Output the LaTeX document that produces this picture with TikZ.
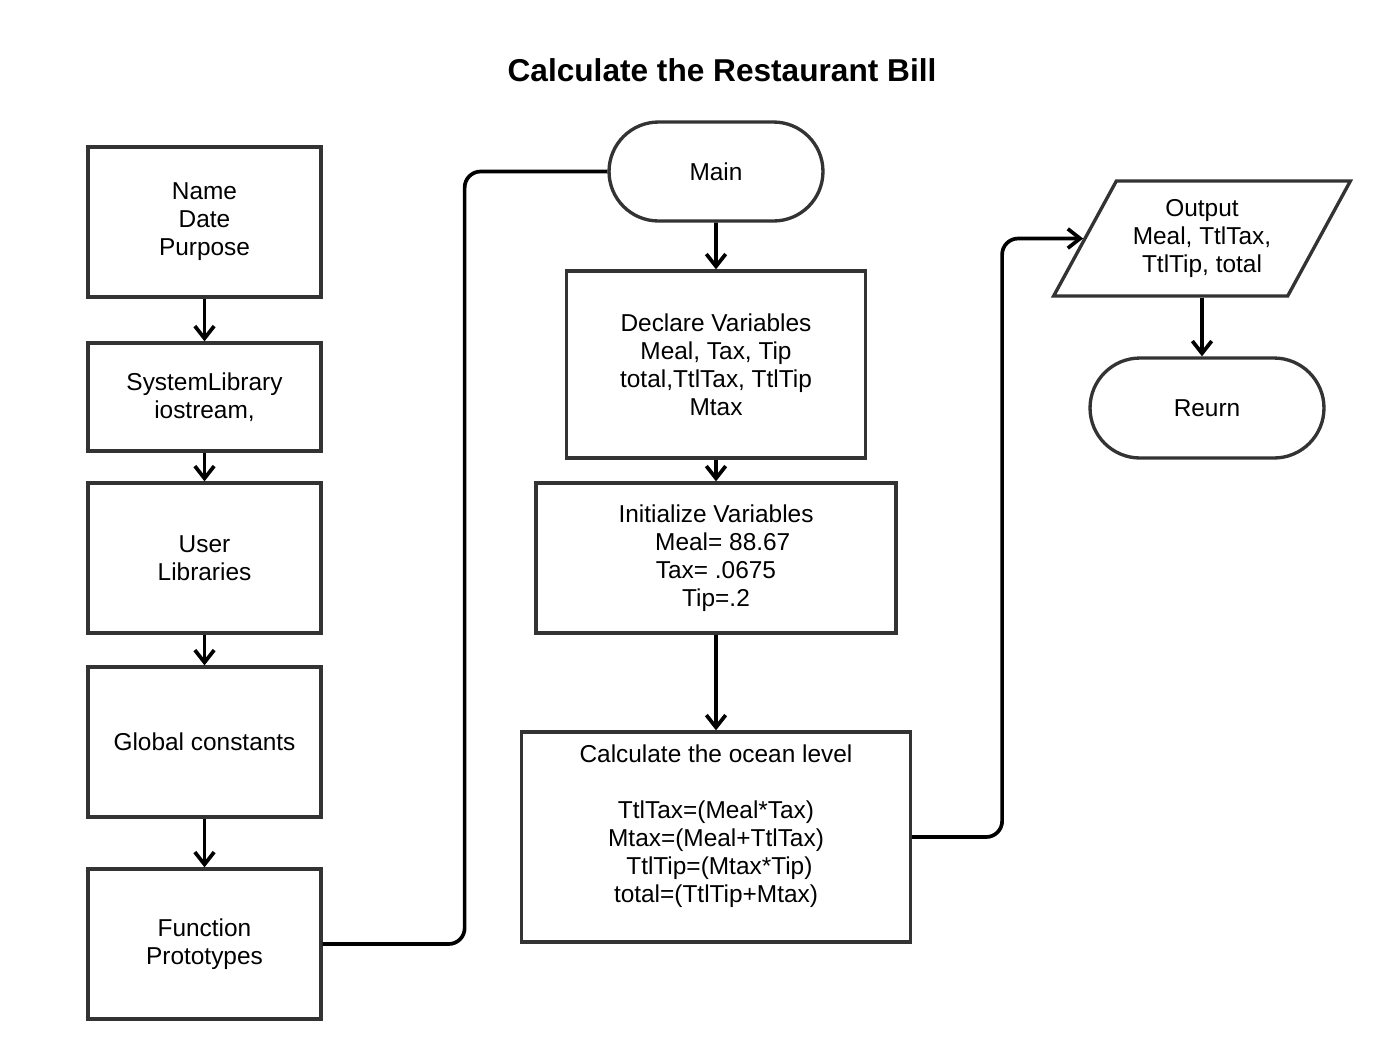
\documentclass[tikz,border=0pt]{standalone}
\usepackage{fontspec}
\setmainfont{Liberation Sans}
\usetikzlibrary{arrows.meta,shapes.geometric,shapes.misc}
\definecolor{boxgray}{HTML}{333333}

\begin{document}
\begin{tikzpicture}[x=0.02cm,y=-0.02cm]
\tikzstyle{every node}+=[inner sep=0pt,align=center,font=\fontsize{13.9}{15.9}\selectfont]
\tikzstyle{stepbox}=[draw=boxgray,line width=1.9pt,rectangle,minimum width=4.66cm]
\tikzstyle{termbox}=[draw=boxgray,line width=1.9pt,rounded rectangle,minimum height=1.98cm]
\tikzstyle{flow}=[black,line width=2.1pt,-{Straight Barb[length=7pt,width=11pt]}]
\tikzstyle{link}=[black,line width=2.1pt,rounded corners=0.32cm]
\useasboundingbox (0,0) rectangle (1375,1059);
\node (title) at (722,70) {\fontsize{18}{20}\selectfont\bfseries Calculate the Restaurant Bill};
\node [stepbox,minimum height=3cm] (name) at (204.5,222) {Name\\Date\\Purpose};
\node [stepbox,minimum height=2.16cm] (syslib) at (204.5,397) {SystemLibrary\\iostream,};
\node [stepbox,minimum height=3cm] (userlib) at (204.5,558) {User\\Libraries};
\node [stepbox,minimum height=3cm] (global) at (204.5,742) {Global constants};
\node [stepbox,minimum height=3cm] (proto) at (204.5,944) {Function\\Prototypes};
\node [termbox,minimum width=4.28cm] (main) at (716,171.5) {Main};
\node [stepbox,minimum width=5.98cm,minimum height=3.74cm] (declare) at (716,364.5) {Declare Variables\\Meal, Tax, Tip\\total,TtlTax, TtlTip\\Mtax};
\node [stepbox,minimum width=7.2cm,minimum height=3cm] (init) at (716,558) {Initialize Variables\\\ \ Meal= 88.67\\Tax= .0675\\Tip=.2};
\node [stepbox,minimum width=7.78cm,minimum height=4.2cm] (calc) at (716,837) {};
\node (calctext) at (716,826) {Calculate the ocean level\\ \\TtlTax=(Meal*Tax)\\Mtax=(Meal+TtlTax)\\\ TtlTip=(Mtax*Tip)\\total=(TtlTip+Mtax)};
\node [draw=boxgray,line width=1.9pt,trapezium,trapezium left angle=57,trapezium right angle=123,trapezium stretches=true,minimum width=5.94cm,minimum height=2.3cm] (out) at (1202,238.5) {Output\\Meal, TtlTax,\\TtlTip, total};
\node [termbox,minimum width=4.68cm,minimum height=2cm] (ret) at (1207,408) {Reurn};
\draw [flow] (name) -- (syslib);
\draw [flow] (syslib) -- (userlib);
\draw [flow] (userlib) -- (global);
\draw [flow] (global) -- (proto);
\draw [link] (proto.east) -- ++(142,0) |- (main.west);
\draw [flow] (main) -- (declare);
\draw [flow] (declare) -- (init);
\draw [flow] (init) -- (calc);
\draw [flow,rounded corners=0.32cm] (calc.east) -- ++(90,0) |- (out);
\draw [flow] (out.center |- out.south) -- (out.center |- ret.north);
\end{tikzpicture}
\end{document}
